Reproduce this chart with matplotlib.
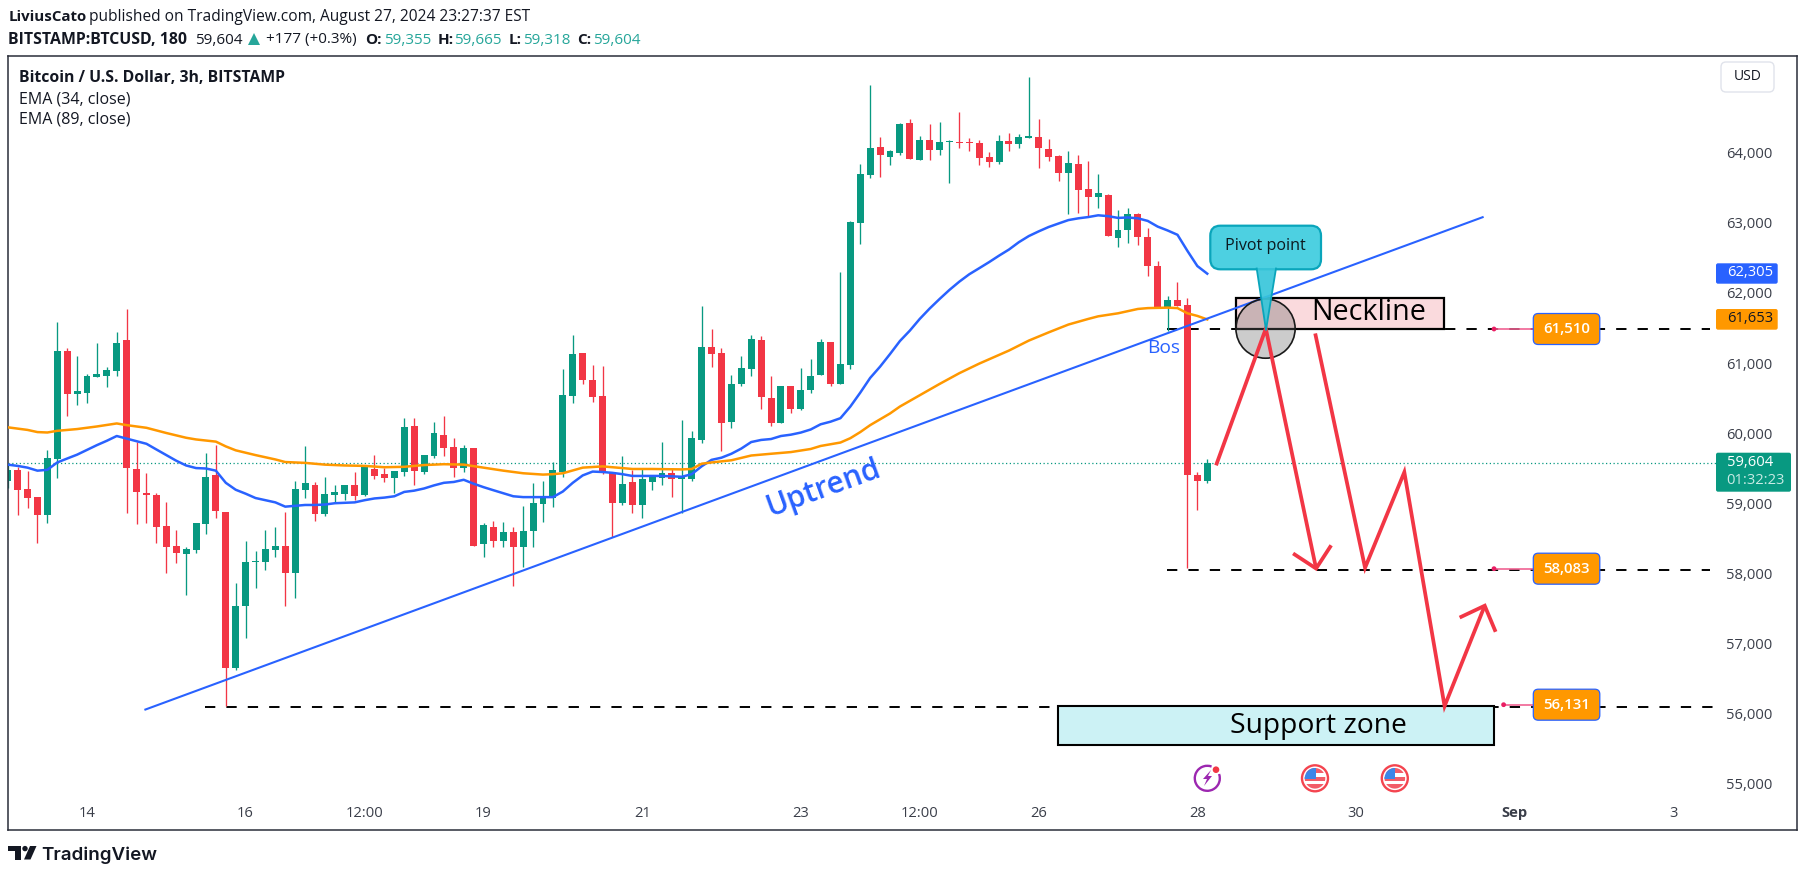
import matplotlib
matplotlib.use("Agg")
import matplotlib.pyplot as plt
import matplotlib.transforms as mtrans
from matplotlib.patches import FancyBboxPatch, Rectangle, Ellipse, Polygon, Circle, Wedge, Arc

plt.rcParams['font.family'] = ['Open Sans', 'DejaVu Sans']

# ---------- data ----------
opens = [59354,59509,59237,59120,58860,59657,61203,60584,60609,60838,60850,60924,61357,59521,59181,59150,58705,58421,58316,58366,
         58743,59435,58909,56691,57562,58192,58199,58372,58421,58032,59225,59293,58885,59157,59163,59293,59144,59521,59447,59398,
         59484,60133,59484,59707,60003,59836,59540,59818,58446,58693,58489,58625,58403,58631,59027,59101,59472,60566,61172,60788,
         60560,59478,59039,59336,59014,59330,59398,59466,59385,59385,59935,61258,61172,60195,60733,60949,61357,60535,60170,60702,
         60380,60640,60863,61332,60739,61005,63026,63706,64108,63965,64027,64454,63928,64213,64071,64176,64188,64188,64169,63965,
         63897,64194,64151,64237,64250,64083,63984,63737,63867,63514,63397,63428,62816,62921,63156,62828,62414,61814,61932,61858,
         59435,59355]
highs = [59580,59552,59490,59120,59793,61617,61246,61128,60869,61314,60974,61475,61808,59911,59466,59181,59052,58650,58403,58755,
         59750,59867,58909,57896,58495,58347,58650,58693,58909,59348,59849,59336,59404,59293,59293,59484,59571,59719,59528,59490,
         60245,60245,59719,60189,60275,59966,59861,59818,58755,58780,58767,58693,58996,59324,59348,59626,60943,61431,61172,61005,
         60986,59478,59707,59509,59521,59429,59911,59528,60220,60065,61845,61518,61246,60863,61128,61431,61419,60844,60702,60702,
         60962,61091,61376,61332,62327,63057,63867,64992,64250,64064,64448,64509,64262,64435,64466,64207,64608,64237,64213,64040,
         64281,64312,64293,65109,64509,64231,64003,64052,63990,63910,63724,63446,63218,63242,63168,62952,62488,61981,62185,61957,
         59478,59665]
lows = [59250,58872,58971,58471,58755,59398,60282,60436,60467,60838,60683,60850,58891,58730,58755,58471,58044,58174,57729,58322,
        58600,58829,56140,56660,57117,57828,58075,58260,57562,57685,59113,58773,58848,59039,59076,59076,59138,59385,59330,59181,
        59416,59287,59447,59682,59713,59410,59484,58427,58260,58403,58415,57859,58118,58415,58767,58984,59410,60467,60727,60479,
        59447,58551,59014,58897,58829,59225,59287,59126,58891,59354,59886,60968,59781,60108,60708,60850,60380,60127,60170,60325,
        60368,60609,60863,60702,60739,60943,62735,63675,63687,63848,63990,63941,63922,63922,63990,63601,64095,64052,63848,63829,
        63867,64058,64095,64237,63805,63910,63619,63150,63174,63125,63248,62847,62692,62748,62717,62266,61814,61487,61845,58112,
        58940,59318]
closes = [59509,59225,59101,58860,59676,61203,60584,60634,60844,60875,60931,61314,59528,59200,59144,58699,58415,58329,58378,58749,
          59404,58916,56678,57568,58192,58211,58378,58421,58032,59237,59324,58878,59163,59194,59293,59138,59565,59422,59398,59490,
          60121,59497,59719,60034,59824,59540,59818,58427,58724,58489,58625,58403,58637,59033,59132,59509,60578,61159,60795,60554,
          59478,59039,59305,59014,59379,59410,59466,59385,59416,59960,61258,61159,60183,60733,60962,61376,60541,60170,60702,60374,
          60646,60844,61332,60733,61017,63038,63724,64095,63990,64052,64435,63941,64213,64071,64182,64194,64169,64169,63959,63897,
          64194,64157,64250,64268,64101,63972,63743,63879,63502,63397,63452,62847,62927,63156,62822,62408,61814,61932,61845,59429,
          59354,59604]

ema34 = [59583,59565,59540,59497,59509,59614,59670,59725,59793,59861,59923,59991,59954,59917,59880,59799,59719,59639,59571,59534,
         59528,59497,59324,59225,59169,59107,59076,59045,58984,58996,59008,59008,59014,59033,59039,59045,59076,59101,59113,59132,
         59194,59212,59243,59287,59324,59336,59367,59311,59262,59218,59175,59132,59120,59120,59120,59120,59200,59324,59429,59484,
         59478,59466,59447,59422,59422,59422,59422,59416,59410,59447,59559,59651,59682,59738,59812,59905,59935,59948,59991,60010,
         60040,60084,60158,60195,60245,60411,60609,60819,60980,61159,61345,61493,61660,61808,61944,62074,62192,62297,62383,62470,
         62562,62649,62754,62841,62908,62970,63020,63069,63094,63112,63137,63125,63100,63106,63094,63057,62976,62921,62859,62630,
         62414,62305]

ema89_bars = [0,2,3,4,5,7,9,11,12,14,16,18,19,21,22,23,25,27,28,30,32,34,36,38,40,42,44,46,48,50,52,54,55,56,58,60,62,63,65,68,69,
              70,71,73,75,77,79,81,82,84,85,86,87,89,90,92,94,96,98,100,101,103,105,107,109,110,112,114,115,117,118,119,120,121]
ema89 = [60115,60078,60047,60041,60065,60090,60127,60170,60146,60108,60034,59966,59942,59911,59843,59787,59719,59657,59620,59608,
         59583,59571,59565,59546,59552,59577,59589,59583,59540,59497,59460,59441,59447,59460,59540,59558,59534,59521,59521,59515,59521,
         59596,59614,59645,59713,59738,59762,59806,59849,59898,59960,60047,60146,60312,60411,60572,60733,60887,61023,61147,61209,61351,
         61468,61580,61660,61697,61740,61802,61814,61821,61814,61740,61703,61653]

x_tick_bars = [8,24,36,48,64,80,92,104,120,136,152,168]
x_tick_labels = ['14','16','12:00','19','21','23','12:00','26','28','30','Sep','3']
y_ticks = [55000,56000,57000,58000,59000,60000,61000,62000,63000,64000]

last_price = 59604
level_prices = [61510,58083,56131]
level_labels = ['61,510','58,083','56,131']
level_starts = [116.9,116.9,19.9]
level_ends = [171.7,171.7,172.1]

trend_bars = [13.89,148.78]
trend_prices = [56092,63110]

neck_bars = [123.88,144.89]
neck_prices = [61516,61958]
zone_bars = [105.9,149.96]
zone_prices = [55588,56141]

path1_bars = [121.89,126.91,131.98]
path1_prices = [59573,61522,58102]
head1_bars = [129.66,131.98,133.50]
head1_prices = [58317,58102,58433]
path2_bars = [131.89,136.92,140.88,144.94,148.99]
path2_prices = [61453,58113,59475,56141,57572]
head2_bars = [146.46,148.99,150.09]
head2_prices = [57403,57572,57200]

# ---------- colours ----------
UP, DOWN = '#089981', '#F23645'
BLUE, ORANGE = '#2962FF', '#FF9800'
INK = '#131722'
TICK = '#3a3e49'

W, H = 1806, 877
fig = plt.figure(figsize=(W/100, H/100), dpi=100, facecolor='white')
PX = mtrans.Affine2D().scale(1, -1).translate(0, H)   # top-left pixel coords for page furniture

L, R, T, B = 8.4, 1797.5, 55.7, 830
ax = fig.add_axes([L/W, 1-B/H, (R-L)/W, (B-T)/H])
ax.set_xlim(0.072, 180.54)
ax.set_ylim(54375, 65412)
for s in ax.spines.values():
    s.set_color('#2a2e39'); s.set_linewidth(1.1)

# axis ticks (inside the frame, TradingView style)
ax.yaxis.tick_right()
ax.set_yticks(y_ticks)
ax.set_yticklabels([f'{v:,}' for v in y_ticks], fontsize=10.6, color=TICK)
ax.tick_params(axis='y', length=0, pad=-51.3)
nudge = mtrans.Affine2D().translate(0, 2.2)
for tick in ax.yaxis.get_major_ticks():
    tick.label2.set_transform(tick.label2.get_transform() + nudge)
ax.set_xticks(x_tick_bars)
ax.set_xticklabels(x_tick_labels, fontsize=10.6, color=TICK)
ax.tick_params(axis='x', length=0, pad=-17.5)
for lab in ax.get_xticklabels():
    if lab.get_text() == 'Sep':
        lab.set_fontweight('bold')

bars = list(range(len(opens)))
cols = [UP if c >= o else DOWN for o, c in zip(opens, closes)]

# horizontal levels
ax.plot([0.072, 172.6], [last_price]*2, color=UP, lw=0.9, ls=(0, (1, 2)), zorder=1.5)
for p, a, b in zip(level_prices, level_starts, level_ends):
    ax.plot([a, b], [p, p], color='black', lw=1.4, ls=(0, (5.3, 5.7)), zorder=1.6, dash_capstyle='butt')

# candles
ax.vlines(bars, lows, highs, colors=cols, lw=0.95, zorder=2)
ax.bar(bars, [abs(c-o) for o, c in zip(opens, closes)], bottom=[min(o, c) for o, c in zip(opens, closes)],
       width=0.7, color=cols, linewidth=0, zorder=2.1)

# EMAs
ax.plot(bars, ema34, color=BLUE, lw=1.8, zorder=3, solid_joinstyle='round')
ax.plot(ema89_bars, ema89, color=ORANGE, lw=1.8, zorder=3, solid_joinstyle='round')

# drawings
ax.add_patch(Rectangle((zone_bars[0], zone_prices[0]), zone_bars[1]-zone_bars[0], zone_prices[1]-zone_prices[0],
                       fc='#CCF2F5', ec='black', lw=1.5, zorder=3.5))
ax.add_patch(Rectangle((neck_bars[0], neck_prices[0]), neck_bars[1]-neck_bars[0], neck_prices[1]-neck_prices[0],
                       fc='#FADADD', ec='black', lw=1.6, zorder=3.5))
ax.plot(trend_bars, trend_prices, color=BLUE, lw=1.5, zorder=3.6)
ax.add_patch(Ellipse((126.88, 61522), 5.97, 844, fc=(0.4, 0.4, 0.4, 0.33), ec='#1a1a1a', lw=1.2, zorder=3.7))
for xs, ys in ((path1_bars, path1_prices), (head1_bars, head1_prices), (path2_bars, path2_prices), (head2_bars, head2_prices)):
    ax.plot(xs, ys, color=DOWN, lw=2.7, zorder=4, solid_joinstyle='miter', solid_capstyle='butt')

ax.text(82.27, 59245, 'Uptrend', color=BLUE, fontsize=21.5, rotation=20, ha='center', va='center',
        fontweight='semibold', zorder=4, rotation_mode='anchor')

def ptext(x, y, s, **kw):
    kw.setdefault('color', INK); kw.setdefault('va', 'center'); kw.setdefault('zorder', 12)
    return fig.text(x, y, s, transform=PX, **kw)

def pill(x0, y0, x1, y1, fc, ec='none', lw=0, r=4):
    fig.add_artist(FancyBboxPatch((x0+r, y0+r), x1-x0-2*r, y1-y0-2*r, boxstyle=f'round,pad={r},rounding_size={r}',
                                  fc=fc, ec=ec, lw=lw, transform=PX, zorder=11))

ptext(1163.5, 348.4, 'Bos', color=BLUE, fontsize=13.8, ha='center')
ptext(1368.8, 313, 'Neckline', color='black', fontsize=20.6, ha='center')
ptext(1318.6, 726, 'Support zone', color='black', fontsize=20.3, ha='center')

# level labels and pink connector stubs
for y, lab, dx in zip((329, 568.7, 704.7), level_labels, (1494, 1494, 1503.6)):
    fig.add_artist(plt.Line2D([dx, 1533], [y, y], color='#F06292', lw=1.2, transform=PX, zorder=10))
    fig.add_artist(Circle((dx, y), 2.4, fc='#E91E63', ec='none', transform=PX, zorder=10))
    pill(1533.3, y-15.5, 1599.8, y+15.5, ORANGE, ec=BLUE, lw=0.9, r=5)
    ptext(1566.5, y, lab, color='white', fontsize=10.8, ha='center', fontweight='semibold')

# callout
pill(1210.3, 225.7, 1321, 269.3, '#4DD0E1', ec='#0AA5BB', lw=1.6, r=10)
fig.add_artist(Polygon([(1256.7, 268), (1276, 268), (1266, 330)], closed=True, fc='#38C6DA', ec='none',
                       alpha=0.92, transform=PX, zorder=11.1))
fig.add_artist(plt.Line2D([1256.7, 1266, 1276], [268.5, 330, 268.5], color='#0AA5BB', lw=1.3, transform=PX, zorder=11.2))
ptext(1265.6, 246.3, 'Pivot point', color='#0c1a20', fontsize=11.6, ha='center')

# price-scale tags
pill(1716, 263.3, 1777.7, 283.7, BLUE, r=2)
ptext(1726.7, 272.7, '62,305', color='white', fontsize=10.6, ha='left')
pill(1716, 309, 1777.7, 329.7, ORANGE, r=2)
ptext(1726.7, 318.7, '61,653', color=INK, fontsize=10.6, ha='left')
pill(1716, 452.7, 1791, 491.7, UP, r=2)
ptext(1726.7, 462.7, '59,604', color='white', fontsize=10.6, ha='left')
ptext(1726.7, 480.7, '01:32:23', color='#C9EBE5', fontsize=10.6, ha='left')

# USD button
pill(1721, 62, 1774, 92, 'white', ec='#E0E3EB', lw=1, r=5)
ptext(1747.5, 77, 'USD', fontsize=10, ha='center')

# header
ptext(8.5, 17, 'LiviusCato', fontsize=10.8, fontweight='bold')
ptext(89, 17, 'published on TradingView.com, August 27, 2024 23:27:37 EST', fontsize=11.2)
ptext(8.5, 40, 'BITSTAMP:BTCUSD, 180', fontsize=11.4, fontweight='bold')
ptext(195.5, 40, '59,604', fontsize=11)
fig.add_artist(Polygon([(248, 45), (260, 45), (254, 33)], closed=True, fc='#26A69A', ec='none', transform=PX, zorder=12))
ptext(265.6, 40, '+177 (+0.3%)', fontsize=11)
for x1, k, x2, v in ((365, 'O:', 384, '59,355'), (437.5, 'H:', 454.5, '59,665'), (509, 'L:', 522.8, '59,318'), (576.8, 'C:', 593, '59,604')):
    ptext(x1, 40, k, fontsize=11, fontweight='bold')
    ptext(x2, 40, v, fontsize=11, color='#26A69A')

# legend
ptext(19, 77.5, 'Bitcoin / U.S. Dollar, 3h, BITSTAMP', fontsize=11.3, fontweight='bold')
ptext(19, 99, 'EMA (34, close)', fontsize=11.5)
ptext(19, 119.8, 'EMA (89, close)', fontsize=11.5)

# event icons
def flag(cx, cy):
    fig.add_artist(Circle((cx, cy), 13, fc='white', ec='#F4444F', lw=1.7, transform=PX, zorder=11))
    clip = Circle((cx, cy), 10.3, transform=PX)
    parts = [Rectangle((cx-11, cy-11), 22, 5.5, fc='#F25C68', ec='none', transform=PX, zorder=11.1),
             Rectangle((cx-11, cy-1.5), 22, 4, fc='#F25C68', ec='none', transform=PX, zorder=11.1),
             Rectangle((cx-11, cy+5.5), 22, 6, fc='#F25C68', ec='none', transform=PX, zorder=11.1),
             Rectangle((cx-11, cy-11), 11.5, 11.5, fc='#3D86E8', ec='none', transform=PX, zorder=11.3)]
    for part in parts:
        fig.add_artist(part)
        part.set_clip_path(clip)
for cx in (1315, 1394.8):
    flag(cx, 778.3)
fig.add_artist(Arc((1207.3, 778.3), 25, 25, theta1=-20, theta2=290, color='#9C27B0', lw=1.7, transform=PX, zorder=11))
fig.add_artist(Polygon([(1211, 770), (1203, 779), (1207, 779), (1204, 786), (1212, 776), (1208, 776)], closed=True,
                       fc='#9C27B0', ec='none', transform=PX, zorder=11.2))
fig.add_artist(Circle((1216, 769.7), 3.3, fc='#F23645', ec='none', transform=PX, zorder=11.3))

# TradingView logo
for poly in ([(8, 846), (20.7, 846), (20.7, 859.5), (14.7, 859.5), (14.7, 851.2), (8, 851.2)],
             [(30, 846), (36.5, 846), (30.5, 859.5), (24, 859.5)]):
    fig.add_artist(Polygon(poly, closed=True, fc=INK, ec='none', transform=PX, zorder=12))
fig.add_artist(Circle((25, 848.6), 2.7, fc=INK, ec='none', transform=PX, zorder=12))
ptext(41.5, 855, 'TradingView', fontsize=13.5, fontweight='semibold', family='Inter')

fig.savefig('out.png', dpi=100, facecolor='white')
